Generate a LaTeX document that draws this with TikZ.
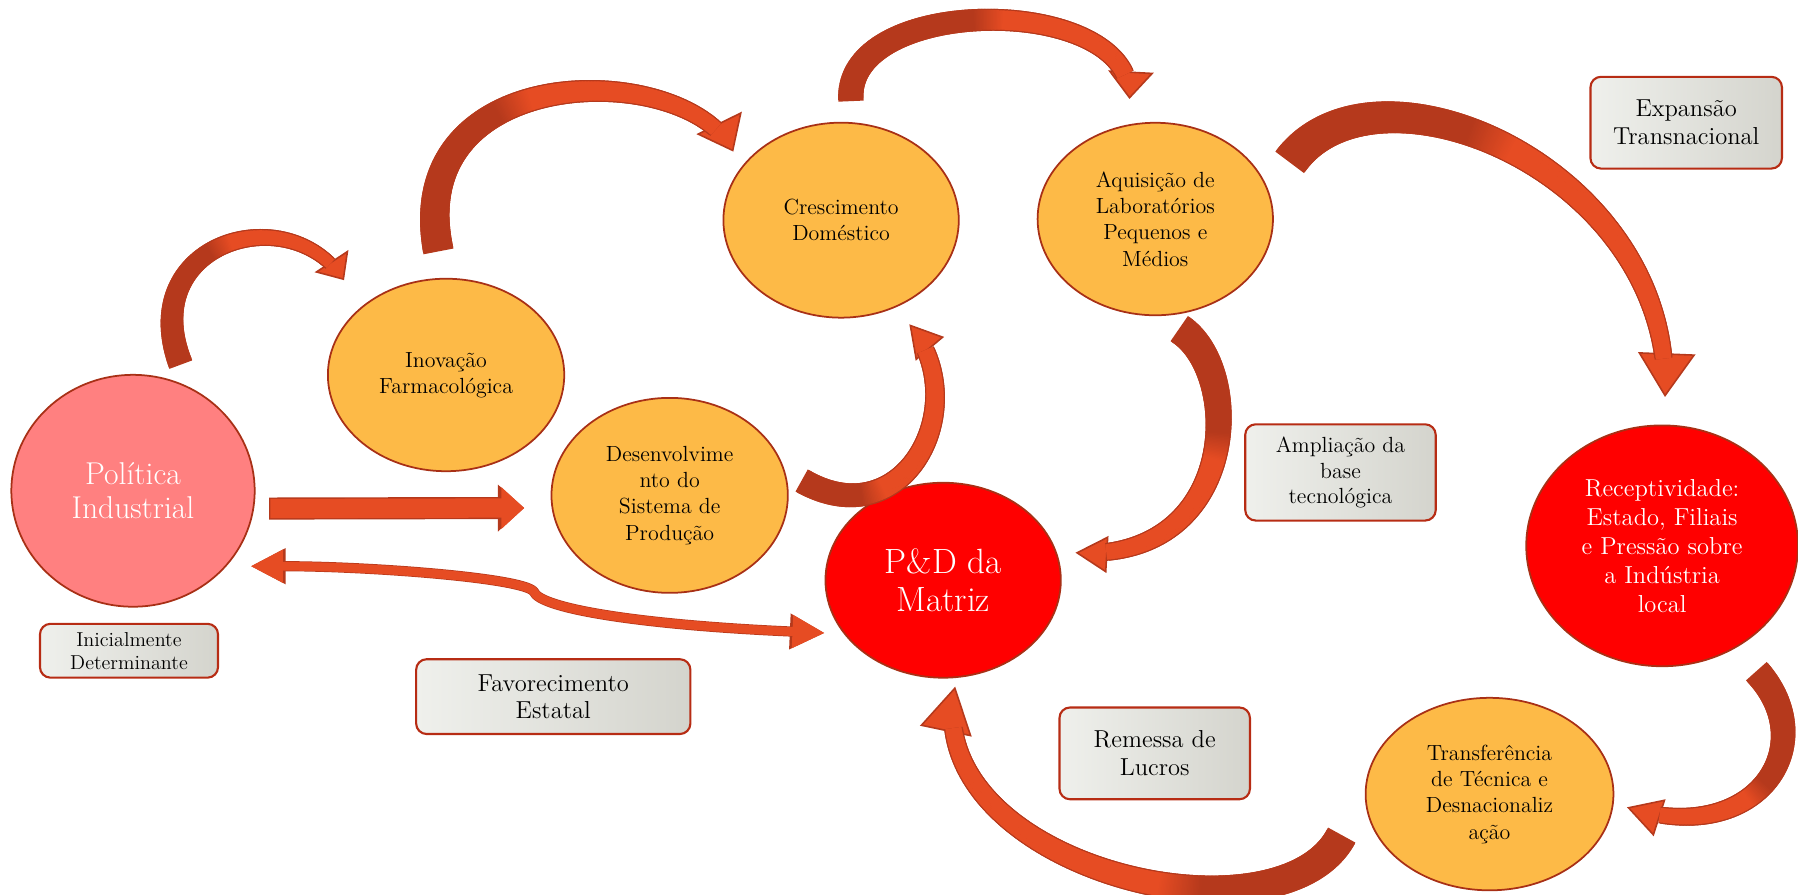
\documentclass[tikz,border=0pt]{standalone}
\usepackage{tikz}
\usetikzlibrary{shapes.geometric,arrows.meta,calc,decorations.markings}

\definecolor{swdark}{HTML}{B5391C}
\definecolor{swlight}{HTML}{E64C23}
\definecolor{orfill}{HTML}{FDBA47}
\definecolor{pkfill}{HTML}{FF8080}
\definecolor{rdfill}{HTML}{FF0000}
\definecolor{ellline}{HTML}{A83016}
\definecolor{boxleft}{HTML}{EFF0EC}
\definecolor{boxright}{HTML}{D4D4CD}
\definecolor{boxline}{HTML}{B72C14}

% width of a curved arrow at the current mark
\newcommand\swsize[2]{%
  \pgfmathsetmacro\swpos{\pgfkeysvalueof{/pgf/decoration/mark info/distance from start}/\pgfdecoratedpathlength}%
  \pgfmathsetmacro\swrad{(#1+(#2-#1)*\swpos)/2}%
}

\begin{document}
\begin{tikzpicture}[
  x=0.023cm, y=-0.023cm,
  bubble/.style={
    ellipse,
    draw=ellline,
    line width=1pt,
    inner sep=0pt,
    align=center
  },
  stage/.style={
    bubble,
    fill=orfill,
    text=black,
    font=\fontsize{12.5}{15}\selectfont
  },
  keystage/.style={
    bubble,
    fill=#1,
    text=white
  },
  note/.style={
    rectangle,
    rounded corners=6pt,
    draw=boxline,
    line width=1.2pt,
    left color=boxleft,
    right color=boxright,
    align=center,
    inner sep=0pt
  },
  swoosh/.style n args={5}{
    draw=swdark,
    line width=0.1pt,
    dash pattern=on 0pt off 1000pt,
    -{Triangle[width=#3,length=#4,fill=swlight,line width=0.9pt]},
    postaction={decorate, decoration={markings,
      mark=between positions 0 and -#4 step 0.8pt with {
        \swsize{#1}{#2}
        \fill[swdark] (-1.3pt,-\swrad pt-0.7pt) rectangle (0.6pt,\swrad pt+0.7pt);
      }}},
    postaction={decorate, decoration={markings,
      mark=between positions 0 and -#4 step 0.8pt with {
        \swsize{#1}{#2}
        \pgfmathtruncatemacro\swmix{max(0,min(100,(\swpos-#5)*1200))}
        \fill[swlight!\swmix!swdark] (-0.6pt,-\swrad pt) rectangle (0.6pt,\swrad pt);
      }}}
  },
  flat/.style={
    draw=swlight,
    line width=11pt,
    -{Triangle[width=23pt,length=13pt]},
    preaction={draw=swdark, line width=12.6pt, shorten <=-0.8pt, -{Triangle[width=25.8pt,length=15pt]}}
  },
  twoway/.style={
    draw=swlight,
    line width=5pt,
    {Triangle[width=17.5pt,length=18.5pt]}-{Triangle[width=17.5pt,length=18.5pt]},
    preaction={draw=swdark, line width=5.8pt, {Triangle[width=19pt,length=20pt]}-{Triangle[width=19pt,length=20pt]}}
  }
]
\useasboundingbox (0,0) rectangle (1568,780);

% circles
\node[keystage=pkfill, minimum width=4.88cm, minimum height=4.65cm, font=\fontsize{18}{19.5}\selectfont] (pol) at (116,428) {Política\\Industrial};
\node[stage, minimum width=4.74cm, minimum height=3.86cm] (ino) at (389,327) {Inovação\\Farmacológica};
\node[stage, minimum width=4.74cm, minimum height=3.91cm] (des) at (584,432) {Desenvolvime\\nto do\\Sistema de\\Produção};
\node[stage, minimum width=4.72cm, minimum height=3.91cm] (cre) at (733.5,192) {Crescimento\\Doméstico};
\node[stage, minimum width=4.72cm, minimum height=3.86cm] (aqu) at (1007.5,191) {Aquisição de\\Laboratórios\\Pequenos e\\Médios};
\node[keystage=rdfill, minimum width=4.72cm, minimum height=3.91cm, font=\fontsize{20}{22}\selectfont] (pdm) at (822.5,506) {P\&D da\\Matriz};
\node[keystage=rdfill, minimum width=5.45cm, minimum height=4.83cm, font=\fontsize{14}{16.5}\selectfont] (rec) at (1449.5,476) {Receptividade:\\Estado, Filiais\\e Pressão sobre\\a Indústria\\local};
\node[stage, minimum width=4.97cm, minimum height=3.86cm] (tra) at (1299,692.5) {Transferência\\de Técnica e\\Desnacionaliz\\ação};

% labels
\node[note, minimum width=3.57cm, minimum height=1.08cm, font=\fontsize{11.5}{13}\selectfont] (ini) at (112.5,567.5) {Inicialmente\\Determinante};
\node[note, minimum width=5.5cm, minimum height=1.5cm, font=\fontsize{14}{15.5}\selectfont] (fav) at (482.5,607.5) {Favorecimento\\Estatal};
\node[note, minimum width=3.82cm, minimum height=1.84cm, font=\fontsize{14}{16}\selectfont] (rem) at (1007,657) {Remessa de\\Lucros};
\node[note, minimum width=3.82cm, minimum height=1.93cm, font=\fontsize{12.5}{14.5}\selectfont] (amp) at (1169,412) {Ampliação da\\base\\tecnológica};
\node[note, minimum width=3.84cm, minimum height=1.84cm, font=\fontsize{14}{16}\selectfont] (exp) at (1470.5,107) {Expansão\\Transnacional};

% curved arrows
\draw[swoosh={12.5pt}{5.9pt}{23pt}{13pt}{0.45}] ($(pol.north)+(41,-10)$) .. controls +(-39,-105) and +(-48,-73) .. ($(ino.north)+(-89,2)$);
\draw[swoosh={16pt}{7.9pt}{28.8pt}{18.3pt}{0.38}] ($(ino.north)+(-7,-25)$) .. controls +(-32,-166) and +(-40,-81) .. ($(cre.north)+(-94,26)$);
\draw[swoosh={13pt}{9.2pt}{26pt}{15.7pt}{0.45}] ($(cre.north)+(8.5,-20)$) .. controls +(-4,-92) and +(5,-92) .. ($(aqu.north)+(-22.5,-20)$);
\draw[swoosh={19pt}{7.9pt}{32.7pt}{25pt}{0.35}] ($(aqu.east)+(15,-51)$) .. controls +(75,-100) and +(8,-197) .. ($(rec.north)+(2.5,-24)$);
\draw[swoosh={13pt}{8.5pt}{21pt}{18.3pt}{0.22}] ($(des.east)+(13,-12)$) .. controls +(90,50) and +(57,68) .. ($(cre.south)+(59.5,5)$);
\draw[swoosh={16pt}{7.9pt}{21pt}{18.3pt}{0.35}] ($(aqu.south)+(22.5,12)$) .. controls +(55,38) and +(143,8) .. ($(pdm.east)+(12,-24)$);
\draw[swoosh={14.4pt}{7.2pt}{22pt}{19.6pt}{0.45}] ($(rec.south)+(83.5,5)$) .. controls +(57,64) and +(112,36) .. ($(tra.east)+(11,11.5)$);
\draw[swoosh={16.4pt}{8.5pt}{30pt}{26pt}{0.3}] ($(tra.west)+(-21,37.5)$) .. controls +(-55,100) and +(-33,157) .. ($(pdm.south)+(10.5,7)$);

% straight and double arrows
\draw[flat] ($(pol.east)+(13,15.5)$) -- ($(des.west)+(-23,11)$);
\draw[twoway] ($(pol.-30)+(11,13)$) .. controls +(102,0) and +(-10,-12) .. ++(247,22)
  .. controls +(5,15) and +(-160,-7) .. ($(pdm.205)+(-13,4)$);

\end{tikzpicture}
\end{document}
